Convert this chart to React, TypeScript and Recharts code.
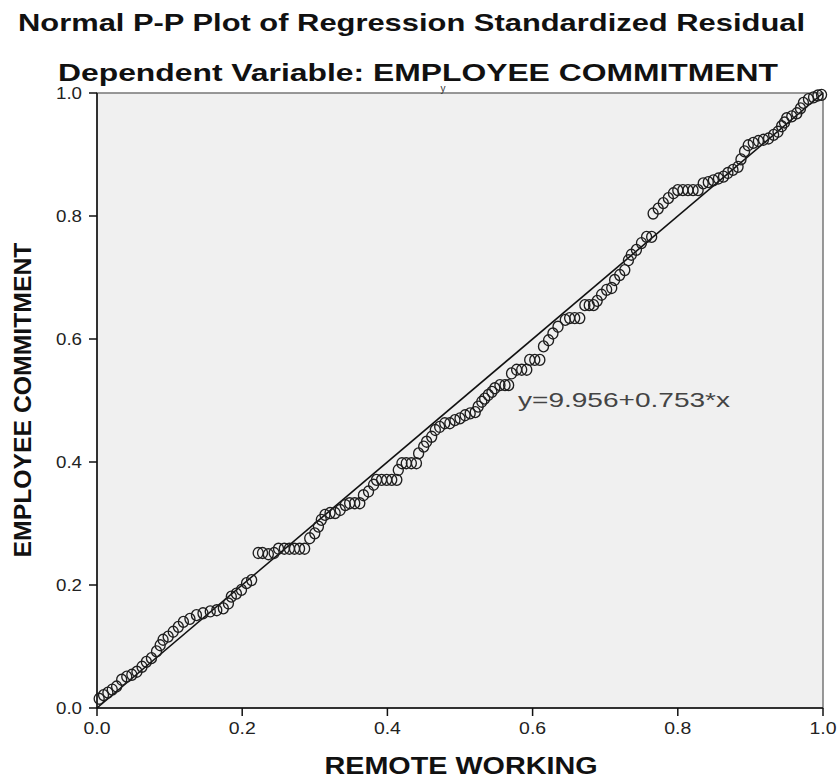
import React from "react";
import {
  ScatterChart,
  Scatter,
  XAxis,
  YAxis,
  ReferenceLine,
  ReferenceArea,
} from "recharts";

// ── 데이터 (P-P plot: observed cum prob vs expected cum prob) ──

const remoteWorking = [
  0.003, 0.009, 0.015, 0.021, 0.027, 0.034, 0.041, 0.048, 0.055, 0.062, 0.068, 0.075, 0.082, 0.087, 0.091, 0.098,
  0.105, 0.112, 0.119, 0.128, 0.137, 0.146, 0.156, 0.165, 0.174, 0.181, 0.185, 0.192, 0.199, 0.206, 0.213,
  0.222, 0.228, 0.236, 0.244, 0.25, 0.258, 0.265, 0.272, 0.279, 0.286, 0.293, 0.3, 0.305, 0.309, 0.314, 0.321,
  0.328, 0.335, 0.342, 0.348, 0.355, 0.362, 0.367, 0.374, 0.381, 0.385, 0.392, 0.399, 0.406, 0.413, 0.415,
  0.42, 0.426, 0.433, 0.44, 0.443, 0.45, 0.454, 0.461, 0.466, 0.472, 0.479, 0.486, 0.493, 0.5, 0.507, 0.514,
  0.521, 0.525, 0.53, 0.534, 0.539, 0.544, 0.548, 0.555, 0.562, 0.567, 0.571, 0.578, 0.585, 0.592, 0.596, 0.603,
  0.61, 0.615, 0.622, 0.628, 0.635, 0.645, 0.651, 0.658, 0.665, 0.672, 0.678, 0.684, 0.689, 0.695, 0.702, 0.709,
  0.713, 0.72, 0.727, 0.732, 0.736, 0.743, 0.75, 0.757, 0.764,
  0.766, 0.773, 0.78, 0.787, 0.794, 0.8, 0.807, 0.814, 0.821, 0.828, 0.835, 0.842, 0.849, 0.856, 0.863, 0.869,
  0.876, 0.883, 0.887, 0.892, 0.897, 0.904, 0.911, 0.918, 0.925, 0.932, 0.938, 0.943, 0.947, 0.95, 0.957, 0.964,
  0.969, 0.973, 0.98, 0.987, 0.993, 0.998,
];

const employeeCommitment = [
  0.015, 0.021, 0.025, 0.03, 0.035, 0.046, 0.051, 0.054, 0.059, 0.067, 0.075, 0.081, 0.092, 0.102, 0.111, 0.116,
  0.124, 0.132, 0.14, 0.145, 0.151, 0.154, 0.157, 0.159, 0.162, 0.17, 0.181, 0.186, 0.192, 0.203, 0.208,
  0.252, 0.252, 0.25, 0.252, 0.259, 0.259, 0.259, 0.259, 0.259, 0.259, 0.276, 0.284, 0.295, 0.306, 0.314, 0.317,
  0.317, 0.322, 0.33, 0.333, 0.333, 0.333, 0.346, 0.352, 0.363, 0.371, 0.371, 0.371, 0.371, 0.371, 0.387,
  0.398, 0.398, 0.398, 0.398, 0.414, 0.425, 0.433, 0.441, 0.452, 0.457, 0.463, 0.463, 0.468, 0.471, 0.476, 0.479,
  0.481, 0.49, 0.498, 0.503, 0.509, 0.514, 0.52, 0.525, 0.525, 0.525, 0.544, 0.55, 0.55, 0.55, 0.566, 0.566,
  0.566, 0.588, 0.598, 0.609, 0.62, 0.631, 0.634, 0.634, 0.634, 0.655, 0.655, 0.655, 0.662, 0.672, 0.68, 0.683,
  0.696, 0.704, 0.712, 0.728, 0.737, 0.745, 0.756, 0.766, 0.766,
  0.804, 0.812, 0.821, 0.829, 0.837, 0.842, 0.842, 0.842, 0.842, 0.842, 0.853, 0.855, 0.858, 0.861, 0.864, 0.87,
  0.875, 0.88, 0.892, 0.905, 0.915, 0.919, 0.922, 0.924, 0.926, 0.932, 0.937, 0.946, 0.952, 0.959, 0.962, 0.967,
  0.975, 0.984, 0.99, 0.993, 0.996, 0.997,
];

const axisTicks = [0, 0.2, 0.4, 0.6, 0.8, 1.0];

const points = remoteWorking.map((x, i) => ({ x, y: employeeCommitment[i] }));

const FONT = '"Liberation Sans", Arial, sans-serif';

// ── 커스텀 요소 ──

function XTick({ x, y, payload }: { x?: number; y?: number; payload?: { value: number } }) {
  return (
    <text x={x} y={y} dy="0.71em" textAnchor="middle" fontFamily={FONT} fontSize={16} fill="#222"
      textLength={27} lengthAdjust="spacingAndGlyphs">
      {payload!.value.toFixed(1)}
    </text>
  );
}

function YTick({ x, y, payload }: { x?: number; y?: number; payload?: { value: number } }) {
  return (
    <text x={x} y={y} dy="0.355em" textAnchor="end" fontFamily={FONT} fontSize={16} fill="#222"
      textLength={26} lengthAdjust="spacingAndGlyphs">
      {payload!.value.toFixed(1)}
    </text>
  );
}

function Ring(props: { cx?: number; cy?: number }) {
  return <ellipse cx={props.cx} cy={props.cy} rx={5} ry={5.5} fill="none" stroke="#1e1e1e" strokeWidth={1.35} />;
}

export default function App() {
  return (
    <div style={{ position: "absolute", left: 0, top: 0, width: 840, height: 779, background: "#fff" }}>
      <ScatterChart width={840} height={779} margin={{ top: 93, right: 17, bottom: 31, left: 57 }}>
        <ReferenceArea x1={0} x2={1} y1={0} y2={1} fill="#f0f0f0" fillOpacity={1} stroke="#777" strokeWidth={1.5} />
        <XAxis
          type="number"
          dataKey="x"
          domain={[0, 1]}
          ticks={axisTicks}
          height={40}
          tick={<XTick />}
          tickSize={8}
          tickMargin={7}
          axisLine={{ stroke: "#111", strokeWidth: 1.5 }}
          tickLine={{ stroke: "#111", strokeWidth: 1.5 }}
        />
        <YAxis
          type="number"
          dataKey="y"
          domain={[0, 1]}
          ticks={axisTicks}
          width={40}
          tick={<YTick />}
          tickSize={8}
          tickMargin={7}
          axisLine={{ stroke: "#111", strokeWidth: 1.5 }}
          tickLine={{ stroke: "#111", strokeWidth: 1.5 }}
        />
        <ReferenceLine
          segment={[{ x: 0, y: 0 }, { x: 1, y: 1 }]}
          stroke="#111"
          strokeWidth={1.6}
          ifOverflow="visible"
        />
        <Scatter data={points} shape={<Ring />} isAnimationActive={false} />
      </ScatterChart>

      {/* 제목, 축 제목, 회귀식 텍스트 */}
      <svg width={840} height={779} style={{ position: "absolute", left: 0, top: 0, pointerEvents: "none" }}>
        <text x={18} y={31} fontFamily={FONT} fontSize={24} fontWeight="bold" fill="#111"
          textLength={787} lengthAdjust="spacingAndGlyphs">
          Normal P-P Plot of Regression Standardized Residual
        </text>
        <text x={58} y={81} fontFamily={FONT} fontSize={24} fontWeight="bold" fill="#111"
          textLength={720} lengthAdjust="spacingAndGlyphs">
          Dependent Variable: EMPLOYEE COMMITMENT
        </text>
        <text x={443} y={92} textAnchor="middle" fontFamily={FONT} fontSize={10} fill="#333">
          y
        </text>
        <text x={461} y={774} textAnchor="middle" fontFamily={FONT} fontSize={23} fontWeight="bold" fill="#111"
          textLength={273} lengthAdjust="spacingAndGlyphs">
          REMOTE WORKING
        </text>
        <text x={31} y={400} transform="rotate(-90, 31, 400)" textAnchor="middle" fontFamily={FONT} fontSize={23}
          fontWeight="bold" fill="#111" textLength={315} lengthAdjust="spacingAndGlyphs">
          EMPLOYEE COMMITMENT
        </text>
        <text x={518} y={407} fontFamily={FONT} fontSize={21} fill="#444"
          textLength={212} lengthAdjust="spacingAndGlyphs">
          y=9.956+0.753*x
        </text>
      </svg>
    </div>
  );
}
